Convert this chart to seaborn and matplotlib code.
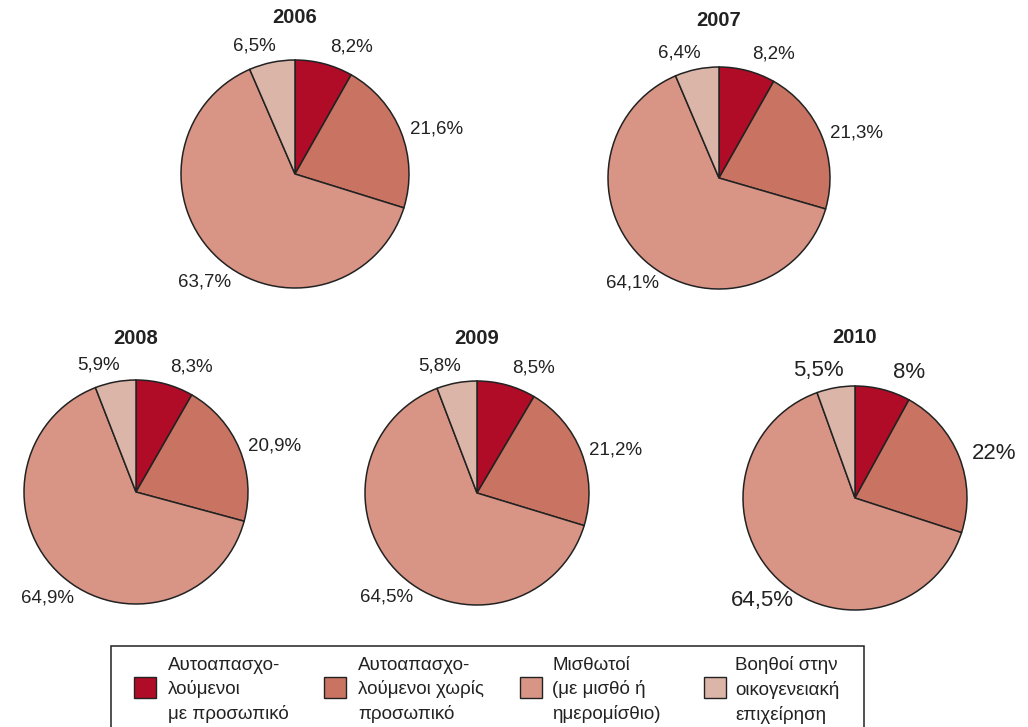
import numpy as np
import matplotlib.pyplot as plt
import seaborn as sns
from matplotlib.patches import Rectangle

# data
years = ['2006', '2007', '2008', '2009', '2010']
self_emp_staff = [8.2, 8.2, 8.3, 8.5, 8]
self_emp_nostaff = [21.6, 21.3, 20.9, 21.2, 22]
employees = [63.7, 64.1, 64.9, 64.5, 64.5]
family_helpers = [6.5, 6.4, 5.9, 5.8, 5.5]
categories = ['Αυτοαπασχο-\nλούμενοι\nμε προσωπικό',
              'Αυτοαπασχο-\nλούμενοι χωρίς\nπροσωπικό',
              'Μισθωτοί\n(με μισθό ή\nημερομίσθιο)',
              'Βοηθοί στην\nοικογενειακή\nεπιχείρηση']

# layout (pixels): center x, center y, radius, title gap, label size
W, H = 1028, 727
layout = [(295, 174, 114, 42, 13.5),
          (719, 178, 111, 47, 13.5),
          (136, 492, 112, 42, 13.5),
          (477, 493, 112, 42, 13.5),
          (855, 498, 112, 49, 16)]
# label angle shift (deg) and distance (radius units) for each slice
lab_shift = [-9, -4, 2, 6]
lab_dist = [1.22, 1.3, 1.23, 1.18]

sns.set_theme(style="white")
plt.rcParams['font.family'] = ['Liberation Sans', 'DejaVu Sans']
colors = sns.color_palette(['#B00C28', '#C97462', '#D89585', '#DBB5A8'])
ink = '#222222'


def fmt(v):
    return ('%g' % v).replace('.', ',') + '%'


fig = plt.figure(figsize=(W / 100, H / 100), dpi=100)

for i, yr in enumerate(years):
    cx, cy, r, gap, fs = layout[i]
    ax = fig.add_axes([(cx - r) / W, 1 - (cy + r) / H, 2 * r / W, 2 * r / H])
    vals = [self_emp_staff[i], self_emp_nostaff[i], employees[i], family_helpers[i]]
    wedges, _ = ax.pie(vals, colors=colors, startangle=90, counterclock=False,
                       wedgeprops=dict(edgecolor=ink, linewidth=1.1))
    for k, w in enumerate(wedges):
        ang = np.deg2rad((w.theta1 + w.theta2) / 2 + lab_shift[k])
        d = lab_dist[k]
        ax.text(d * np.cos(ang), d * np.sin(ang), fmt(vals[k]), ha='center',
                va='center', fontsize=fs, color=ink)
    ax.set_xlim(-1, 1)
    ax.set_ylim(-1, 1)
    ax.axis('off')
    ax.text(0, 1 + gap / r, yr, ha='center', va='center', fontsize=14.5,
            fontweight='bold', color=ink)

# legend box
fig.add_artist(Rectangle((111 / W, 1 - 760 / H), 753 / W, 114 / H,
                         transform=fig.transFigure, facecolor='white',
                         edgecolor=ink, linewidth=1.1, clip_on=False))
patch_x = [134, 324, 520, 704]
text_x = [168, 358, 552, 735]
for k, lab in enumerate(categories):
    fig.add_artist(Rectangle((patch_x[k] / W, 1 - 698 / H), 22 / W, 21 / H,
                             transform=fig.transFigure, facecolor=colors[k],
                             edgecolor=ink, linewidth=1))
    fig.text(text_x[k] / W, 1 - 690 / H, lab, ha='left', va='center',
             fontsize=13.5, color=ink, linespacing=1.47)

fig.savefig('out.png', dpi=100)
